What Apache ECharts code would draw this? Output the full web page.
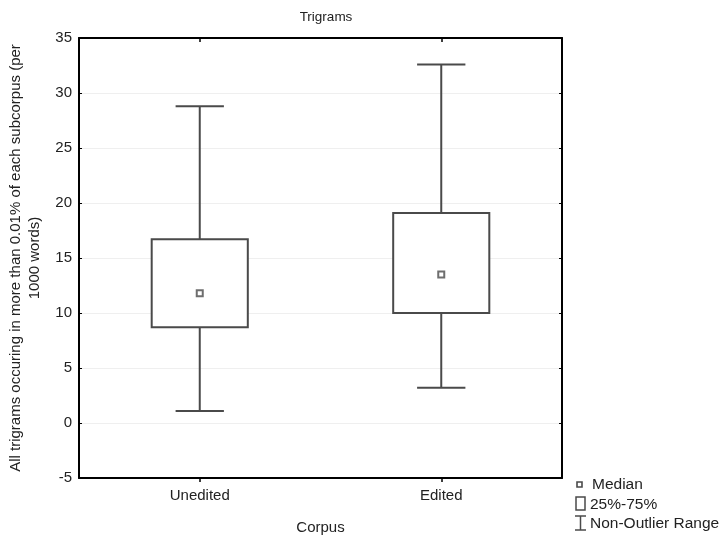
<!DOCTYPE html>
<html>
<head>
<meta charset="utf-8">
<script src="https://cdn.jsdelivr.net/npm/echarts@6/dist/echarts.min.js"></script>
<style>html,body{margin:0;padding:0;background:#fff;}#c{width:726px;height:537px;}</style>
</head>
<body>
<div id="c"></div>
<script>
var categories = ['Unedited', 'Edited'];
var whiskerLow = [1.1, 3.2];
var q1 = [8.7, 10.0];
var median = [11.8, 13.5];
var q3 = [16.7, 19.1];
var whiskerHigh = [28.8, 32.6];
var yTicks = [-5, 0, 5, 10, 15, 20, 25, 30, 35];

var FONT = '"Liberation Sans", Arial, sans-serif';
var LINE = '#4a4a4a';

var boxData = categories.map(function (c, i) {
  return [i, whiskerLow[i], q1[i], median[i], q3[i], whiskerHigh[i]];
});
var medianData = categories.map(function (c, i) { return [i, median[i]]; });

var chart = echarts.init(document.getElementById('c'), null, {renderer: 'canvas'});
chart.setOption({
  animation: false,
  backgroundColor: '#fff',
  textStyle: {fontFamily: FONT},
  title: {
    text: 'Trigrams', left: 321, top: 5, textAlign: 'center',
    textStyle: {fontSize: 13.5, fontWeight: 'normal', color: '#222', fontFamily: FONT}
  },
  grid: {left: 79, right: 164, top: 38, bottom: 59, containLabel: false, outerBoundsMode: 'none'},
  xAxis: [{
    type: 'category', data: categories, boundaryGap: true, position: 'bottom',
    axisLine: {show: true, onZero: false, lineStyle: {color: '#000', width: 2}},
    axisTick: {show: true, alignWithLabel: true, inside: false, length: 4, lineStyle: {color: '#000', width: 1.5}},
    axisLabel: {fontSize: 15, color: '#222', margin: 10, fontFamily: FONT},
    name: 'Corpus', nameLocation: 'middle', nameGap: 42,
    nameTextStyle: {fontSize: 15, color: '#222', fontFamily: FONT},
    splitLine: {show: false}
  }, {
    type: 'category', data: categories, boundaryGap: true, position: 'top',
    axisLine: {show: true, onZero: false, lineStyle: {color: '#000', width: 2}},
    axisTick: {show: true, alignWithLabel: true, inside: true, length: 4, lineStyle: {color: '#000', width: 1.5}},
    axisLabel: {show: false}, splitLine: {show: false}
  }],
  yAxis: [{
    type: 'value', min: -5, max: 35, interval: 5, position: 'left',
    axisLine: {show: true, onZero: false, lineStyle: {color: '#000', width: 2}},
    axisTick: {show: true, inside: true, length: 3, lineStyle: {color: '#000', width: 1}},
    axisLabel: {fontSize: 15, color: '#222', margin: 7, fontFamily: FONT},
    splitLine: {show: true, lineStyle: {color: '#efefef', width: 1}},
    name: 'All trigrams occuring in more than 0.01% of each subcorpus (per\n1000 words)',
    nameLocation: 'middle', nameGap: 29, nameRotate: 90,
    nameTextStyle: {fontSize: 15, color: '#222', lineHeight: 19, align: 'center', fontFamily: FONT}
  }, {
    type: 'value', min: -5, max: 35, interval: 5, position: 'right',
    axisLine: {show: true, onZero: false, lineStyle: {color: '#000', width: 2}},
    axisTick: {show: true, inside: true, length: 3, lineStyle: {color: '#000', width: 1}},
    axisLabel: {show: false}, splitLine: {show: false}
  }],
  series: [{
    type: 'custom',
    name: 'Non-Outlier Range',
    xAxisIndex: 0, yAxisIndex: 0,
    data: boxData,
    encode: {x: 0, y: [1, 2, 3, 4, 5]},
    renderItem: function (params, api) {
      var idx = api.value(0);
      var band = api.size([1, 0])[0];
      var pLow = api.coord([idx, api.value(1)]);
      var pQ1 = api.coord([idx, api.value(2)]);
      var pQ3 = api.coord([idx, api.value(4)]);
      var pHigh = api.coord([idx, api.value(5)]);
      var x = pLow[0];
      var bh = band * 0.199;
      var ch = band * 0.1;
      var st = {stroke: LINE, lineWidth: 2, fill: null};
      return {
        type: 'group',
        children: [
          {type: 'line', shape: {x1: x, y1: pHigh[1], x2: x, y2: pQ3[1]}, style: st},
          {type: 'line', shape: {x1: x, y1: pQ1[1], x2: x, y2: pLow[1]}, style: st},
          {type: 'line', shape: {x1: x - ch, y1: pHigh[1], x2: x + ch, y2: pHigh[1]}, style: st},
          {type: 'line', shape: {x1: x - ch, y1: pLow[1], x2: x + ch, y2: pLow[1]}, style: st},
          {type: 'rect', shape: {x: x - bh, y: pQ3[1], width: 2 * bh, height: pQ1[1] - pQ3[1]},
            style: {stroke: LINE, lineWidth: 2, fill: '#fff'}}
        ]
      };
    },
    z: 2
  }, {
    type: 'scatter',
    name: 'Median',
    data: medianData,
    symbol: 'rect', symbolSize: 6,
    itemStyle: {color: '#fff', borderColor: LINE, borderWidth: 2},
    z: 3
  }],
  graphic: [
    {type: 'rect', shape: {x: 577, y: 482, width: 5, height: 5}, style: {fill: '#fff', stroke: LINE, lineWidth: 1.6}},
    {type: 'text', x: 592, y: 485, style: {text: 'Median', font: '15.5px ' + FONT, fill: '#222', textVerticalAlign: 'middle'}},
    {type: 'rect', shape: {x: 576, y: 497, width: 9, height: 13}, style: {fill: '#fff', stroke: LINE, lineWidth: 1.5}},
    {type: 'text', x: 590, y: 505, style: {text: '25%-75%', font: '15.5px ' + FONT, fill: '#222', textVerticalAlign: 'middle'}},
    {type: 'polyline', shape: {points: [[575, 516], [586, 516]]}, style: {stroke: LINE, lineWidth: 1.5}},
    {type: 'polyline', shape: {points: [[580.5, 516], [580.5, 530]]}, style: {stroke: LINE, lineWidth: 1.5}},
    {type: 'polyline', shape: {points: [[575, 530], [586, 530]]}, style: {stroke: LINE, lineWidth: 1.5}},
    {type: 'text', x: 590, y: 524, style: {text: 'Non-Outlier Range', font: '15.5px ' + FONT, fill: '#222', textVerticalAlign: 'middle'}}
  ]
});
</script>
</body>
</html>
